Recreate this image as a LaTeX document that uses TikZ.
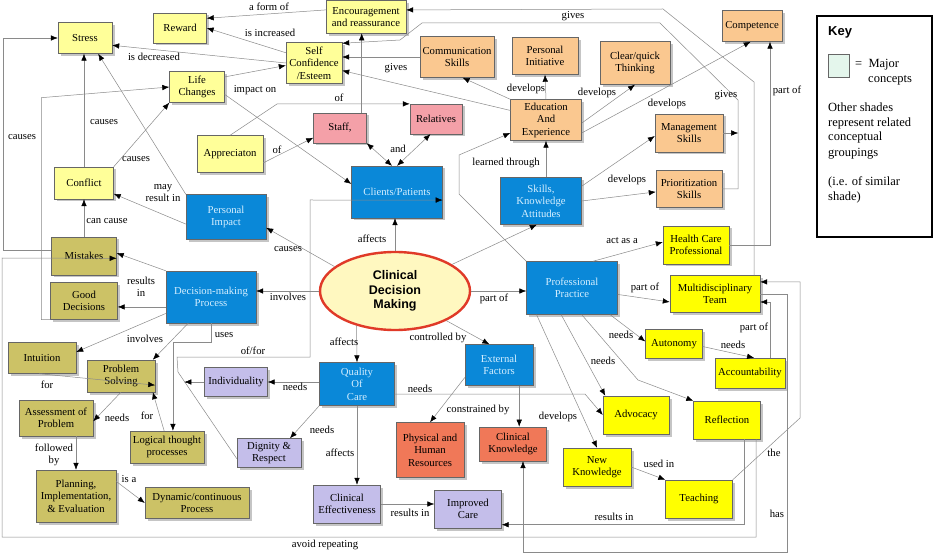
\documentclass[tikz,border=0pt]{standalone}
\usepackage{fontspec}
\setmainfont{Liberation Serif}
\newfontfamily\sansb{Liberation Sans}
\usetikzlibrary{arrows.meta,shadows,calc,shapes.geometric}
\definecolor{cYel}{HTML}{FFFF99}
\definecolor{cOra}{HTML}{FAC890}
\definecolor{cPnk}{HTML}{F4A0A8}
\definecolor{cBlu}{HTML}{0A88D8}
\definecolor{cBluT}{HTML}{D4EEFF}
\definecolor{cOli}{HTML}{CCC266}
\definecolor{cBri}{HTML}{FFFF00}
\definecolor{cLav}{HTML}{C4BEEA}
\definecolor{cRed}{HTML}{F07858}
\definecolor{cLine}{HTML}{8A8A8A}
\definecolor{cEllB}{HTML}{E03A28}
\definecolor{cEllF}{HTML}{FFF8C0}
\definecolor{cMint}{HTML}{E4F6EC}
\begin{document}
\begin{tikzpicture}[x=1pt,y=-1pt,
 box/.style 2 args={draw=black!60, line width=0.4pt, rectangle, align=center, inner sep=1pt,
   minimum width=#1pt, minimum height=#2pt, font=\fontsize{10.7}{12.5}\selectfont,
   drop shadow={shadow xshift=2.5pt,shadow yshift=-2.5pt,fill=black!45,opacity=0.5}},
 ylw/.style={fill=cYel}, ora/.style={fill=cOra}, pnk/.style={fill=cPnk},
 blu/.style={fill=cBlu,text=cBluT}, oli/.style={fill=cOli}, bri/.style={fill=cBri},
 lav/.style={fill=cLav}, redb/.style={fill=cRed},
 lbl/.style={font=\fontsize{10.7}{12}\selectfont, align=center, inner sep=0pt},
 keyf/.style={font=\fontsize{12.5}{15}\selectfont, inner sep=0pt, anchor=base west},
 arr/.style={draw=cLine, line width=0.5pt, -{Latex[length=7pt,width=5.5pt,color=black]}},
 dbl/.style={draw=cLine, line width=0.5pt, {Latex[length=7pt,width=5.5pt,color=black]}-{Latex[length=7pt,width=5.5pt,color=black]}}
]
\useasboundingbox (0,0) rectangle (934,553);
\fill[white] (0,0) rectangle (934,553);

% pale yellow
\node[box={54}{31},ylw] (stress) at (85,38) {Stress};
\node[box={53}{30},ylw] (reward) at (180,28) {Reward};
\node[box={80}{33},ylw] (enc) at (366,17) {Encouragement\\and reassurance};
\node[box={56}{41},ylw] (selfc) at (314,63) {Self\\Confidence\\/Esteem};
\node[box={55}{31},ylw] (life) at (197,87) {Life\\Changes};
\node[box={66}{37},ylw] (appr) at (230,154) {Appreciaton};
\node[box={59}{32},ylw] (conflict) at (84,183) {Conflict};
% orange
\node[box={74}{41},ora] (comm) at (457,57) {Communication\\Skills};
\node[box={66}{37},ora] (pinit) at (545,56) {Personal\\Initiative};
\node[box={70}{43},ora] (clear) at (635,63) {Clear/quick\\Thinking};
\node[box={60}{31},ora] (comp) at (752,26) {Competence};
\node[box={71}{41},ora] (edu) at (546,120) {Education\\And\\Experience};
\node[box={68}{38},ora] (mgmt) at (689,133) {Management\\Skills};
\node[box={66}{37},ora] (prio) at (689,189) {Prioritization\\Skills};
% pink
\node[box={53}{30},pnk] (staff) at (340,128) {Staff,};
\node[box={52}{30},pnk] (rel) at (436,119) {Relatives};
% blue
\node[box={91}{52},blu] (clients) at (397,192) {Clients/Patients};
\node[box={80}{45},blu] (pimpact) at (226,217) {Personal\\Impact};
\node[box={81}{47},blu] (skills) at (541,201) {Skills,\\Knowledge\\Attitudes};
\node[box={90}{52},blu] (dmp) at (211,297) {Decision-making\\Process};
\node[box={91}{53},blu] (pp) at (572,288) {Professional\\Practice};
\node[box={75}{43},blu] (qoc) at (357,384) {Quality\\Of\\Care};
\node[box={68}{41},blu] (ext) at (499,365) {External\\Factors};
% olive
\node[box={65}{38},oli] (mistakes) at (84,256) {Mistakes};
\node[box={67}{37},oli] (good) at (84,301) {Good\\Decisions};
\node[box={68}{31},oli] (intuition) at (42,358) {Intuition};
\node[box={68}{32},oli] (probsolv) at (121,376) {Problem\\Solving};
\node[box={74}{36},oli] (assess) at (56,418) {Assessment of\\Problem};
\node[box={74}{32},oli] (logical) at (167,447) {Logical thought\\processes};
\node[box={80}{52},oli] (plan) at (76,496) {Planning,\\Implementation,\\\& Evaluation};
\node[box={104}{31},oli] (dynamic) at (197,503) {Dynamic/continuous\\Process};
% bright yellow
\node[box={66}{38},bri] (hcp) at (696,245) {Health Care\\Professional};
\node[box={90}{37},bri] (mdt) at (715,294) {Multidisciplinary\\Team};
\node[box={57}{29},bri] (auton) at (674,344) {Autonomy};
\node[box={70}{30},bri] (account) at (750,373) {Accountability};
\node[box={66}{38},bri] (advocacy) at (636,415) {Advocacy};
\node[box={67}{38},bri] (reflect) at (727,420) {Reflection};
\node[box={68}{38},bri] (newk) at (597,467) {New\\Knowledge};
\node[box={67}{38},bri] (teach) at (699,499) {Teaching};
% lavender
\node[box={63}{29},lav] (indiv) at (236,382) {Individuality};
\node[box={64}{29},lav] (dignity) at (269,453) {Dignity \&\\Respect};
\node[box={67}{38},lav] (clineff) at (347,504) {Clinical\\Effectiveness};
\node[box={67}{38},lav] (improved) at (468,509) {Improved\\Care};
% red
\node[box={68}{55},redb] (phys) at (430,450) {Physical and\\Human\\Resources};
\node[box={67}{34},redb] (clink) at (513,444) {Clinical\\Knowledge};
% central ellipse
\node[ellipse, draw=cEllB, line width=2.4pt, fill=cEllF, minimum width=150pt, minimum height=78pt,
  inner sep=0pt, align=center, font=\sansb\bfseries\fontsize{12.5}{14.5}\selectfont] (cdm) at (395,291) {Clinical\\Decision\\Making};

% key
\node[draw=black, line width=1.1pt, minimum width=115pt, minimum height=221pt, inner sep=0pt] (key) at (874.5,126.5) {};
\node[anchor=base west, font=\sansb\bfseries\fontsize{13}{15}\selectfont, inner sep=0pt] (keyt) at (828,36) {Key};
\node[draw=black!60, fill=cMint, minimum width=21pt, minimum height=23pt, inner sep=0pt] (keysq) at (838.5,65.5) {};
\node[keyf] (keym) at (855,68) {=\enspace Major};
\node[keyf] (keyc) at (868,83) {concepts};
\node[keyf] (keyo1) at (828,112) {Other shades};
\node[keyf] (keyo2) at (828,127) {represent related};
\node[keyf] (keyo3) at (828,141) {conceptual};
\node[keyf] (keyo4) at (828,157) {groupings};
\node[keyf] (keyo5) at (828,186) {(i.e. of similar};
\node[keyf] (keyo6) at (828,201) {shade)};

% connectors
\draw[arr] (enc.170) -- (reward.20);
\draw[arr] (selfc.160) -- (reward.east);
\draw[arr] (selfc.west) -- (stress.-15);
\draw[arr] (life.20) -- (selfc.185);
\draw[arr] (conflict.north) -- (conflict.north |- stress.south);
\draw[arr] (conflict.north east) -- (life.south west);
\draw[arr] (mistakes.170) -- ++(-48.5,0) |- (stress.west);
\draw[arr] (good.south west) -- ++(-9,0) -- ++(0,-222) -- (life.west);
\draw[arr] (pimpact.north west) -- (stress.-50);
\draw[arr] (pimpact.190) -- (conflict.-20);
\draw[arr] (cdm.158) -- (pimpact.-15);
\draw[arr] (cdm.north) -- (cdm.north |- clients.south);
\draw[arr] (cdm.west) -- (cdm.west -| dmp.east);
\draw[arr] (cdm.east) -- (cdm.east -| pp.west);
\draw[arr] (cdm.-138.5) -- (qoc.north);
\draw[arr] (cdm.-30) -- (ext.115);
\draw[arr] (cdm.25) -- (skills.-100);
\draw[arr] (skills.north -| edu.south) -- (edu.south);
\draw[arr] (pp.north west) -- (459,194) -- (459,155) -- (edu.200);
\draw[arr] (edu.north) -- (pinit.south);
\draw[arr] (edu.north west) -- (comm.-75);
\draw[arr] (edu.165) -- (selfc.-15);
\draw[arr] (comm.west) -- (comm.west -| selfc.east);
\draw[arr] (edu.-5) -- (clear.south);
\draw[arr] (edu.-20) -- (comp.-95);
\draw[arr] (skills.20) -- (mgmt.185);
\draw[arr] (skills.east) -- (prio.185);
\draw[arr] (prio.east) -| (738,100) -- (660,23) -- (422,23) -- (400,40) -- (selfc.35);
\draw[arr] (mgmt.east) -- ++(15,0);
\draw[arr] (mdt.north east) ++(-6,0) -- (754,82) -- (663,9) -- (enc.10);
\draw[arr] (hcp.east) -| ($(comp.south)+(18,0)$);
\draw[arr] (staff.north east) ++(-5,0) -- ++(0,-79.5);
\draw[arr] (appr.-15) -- (staff.200);
\draw[arr] (appr.north) -- (277,104) -- (rel.150);
\draw[dbl] (staff.south east) -- ($(clients.north)+(-5,0)$);
\draw[dbl] (rel.-110) -- (clients.north);
\draw[arr] (life.-15) -- (clients.170);
\draw[arr] (dignity.190) -- (178,372) -- (177,357) -- (310,357) -- (310,200) -- (clients.-10);
\draw[arr] (indiv.west) -- ++(-20,0);
\draw[arr] (indiv.east -| qoc.west) -- (indiv.east);
\draw[arr] (qoc.south west) -- (dignity.35);
\draw[arr] (qoc.south) -- (qoc.south |- clineff.north);
\draw[arr] (clineff.east) -- (clineff.east -| improved.west);
\draw[arr] (qoc.-15) -- (585,394) -- (advocacy.west);
\draw[arr] (ext.200) -- (phys.north);
\draw[arr] (ext.south east) ++(-14,0) -- ++(0,41);
\draw[arr] (pp.-35) -- (auton.175);
\draw[arr] (pp.-112.5) -- (advocacy.148);
\draw[arr] (pp.-143) -- (newk.north);
\draw[arr] (pp.-70) -- (638,380) -- (reflect.north west);
\draw[arr] (pp.52) -- (hcp.175);
\draw[arr] (pp.-8) -- (mdt.190);
\draw[arr] (auton.-5) -- (account.75);
\draw[arr] (account.north east) ++(-15,0) |- (mdt.-10);
\draw[arr] (teach.north east) -- (800,418) |- (mdt.15);
\draw[arr] (mdt.east) -- ++(27,0) -- ++(0,258) -| ($(clink.south)+(10,0)$);
\draw[arr] (reflect.south east) ++(-16.5,0) |- (improved.-25);
\draw[arr] (reflect.south east) ++(-4.5,0) -- ++(0,98) -| (2,258) -- (mistakes.-4);
\draw[arr] (newk.east) -- (teach.north west);
\draw[arr] (mistakes.north) -- (conflict.south);
\draw[arr] (dmp.north west) -- (mistakes.5);
\draw[arr] (good.-10 -| dmp.west) -- (good.-10);
\draw[arr] (dmp.200) -- (intuition.10);
\draw[arr] (dmp.-131) -- (probsolv.27);
\draw[arr] (dmp.south) -- ++(0,19) -| (logical.70);
\draw[arr] (intuition.-100) -- (probsolv.-15);
\draw[arr] (probsolv.south) -- (assess.-5);
\draw[arr] (logical.100) -- (probsolv.-27);
\draw[arr] (plan.north |- assess.south) -- (plan.north);
\draw[arr] (plan.20) -- (dynamic.west);

% linking phrases
\node[lbl] (t1) at (269,7) {a form of};
\node[lbl] (t2) at (270,33) {is increased};
\node[lbl] (t3) at (154,57) {is decreased};
\node[lbl] (t4) at (255,90) {impact on};
\node[lbl] (t5) at (104,122) {causes};
\node[lbl] (t6) at (136,159) {causes};
\node[lbl] (t7) at (22,137) {causes};
\node[lbl] (t8) at (277,150) {of};
\node[lbl] (t9) at (339,98) {of};
\node[lbl] (t10) at (398,149) {and};
\node[lbl] (t11) at (506,163) {learned through};
\node[lbl] (t12) at (163,193) {may\\result in};
\node[lbl] (t13) at (288,249) {causes};
\node[lbl] (t14) at (372,239) {affects};
\node[lbl] (t15) at (288,297) {involves};
\node[lbl] (t16) at (494,299) {part of};
\node[lbl] (t17) at (344,342) {affects};
\node[lbl] (t18) at (438,338) {controlled by};
\node[lbl] (t19) at (622,241) {act as a};
\node[lbl] (t20) at (645,288) {part of};
\node[lbl] (t21) at (621,335) {needs};
\node[lbl] (t22) at (733,345) {needs};
\node[lbl] (t23) at (754,328) {part of};
\node[lbl] (t24) at (603,361) {needs};
\node[lbl] (t25) at (558,417) {develops};
\node[lbl] (t26) at (478,410) {constrained by};
\node[lbl] (t27) at (420,389) {needs};
\node[lbl] (t28) at (295,387) {needs};
\node[lbl] (t29) at (322,430) {needs};
\node[lbl] (t30) at (340,453) {affects};
\node[lbl] (t31) at (410,513) {results in};
\node[lbl] (t32) at (659,464) {used in};
\node[lbl] (t33) at (774,453) {the};
\node[lbl] (t34) at (777,514) {has};
\node[lbl] (t35) at (614,517) {results in};
\node[lbl] (t36) at (325,545) {avoid repeating};
\node[lbl] (t37) at (253,351) {of/for};
\node[lbl] (t38) at (224,335) {uses};
\node[lbl] (t39) at (145,339) {involves};
\node[lbl] (t40) at (141,287) {results\\in};
\node[lbl] (t41) at (107,221) {can cause};
\node[lbl] (t42) at (47,385) {for};
\node[lbl] (t43) at (117,418) {needs};
\node[lbl] (t44) at (147,416) {for};
\node[lbl] (t45) at (54,455) {followed\\by};
\node[lbl] (t46) at (129,479) {is a};
\node[lbl] (t47) at (526,89) {develops};
\node[lbl] (t48) at (597,93) {develops};
\node[lbl] (t49) at (667,104) {develops};
\node[lbl] (t50) at (627,180) {develops};
\node[lbl] (t51) at (396,68) {gives};
\node[lbl] (t52) at (573,16) {gives};
\node[lbl] (t53) at (726,95) {gives};
\node[lbl] (t54) at (787,91) {part of};
\end{tikzpicture}
\end{document}
